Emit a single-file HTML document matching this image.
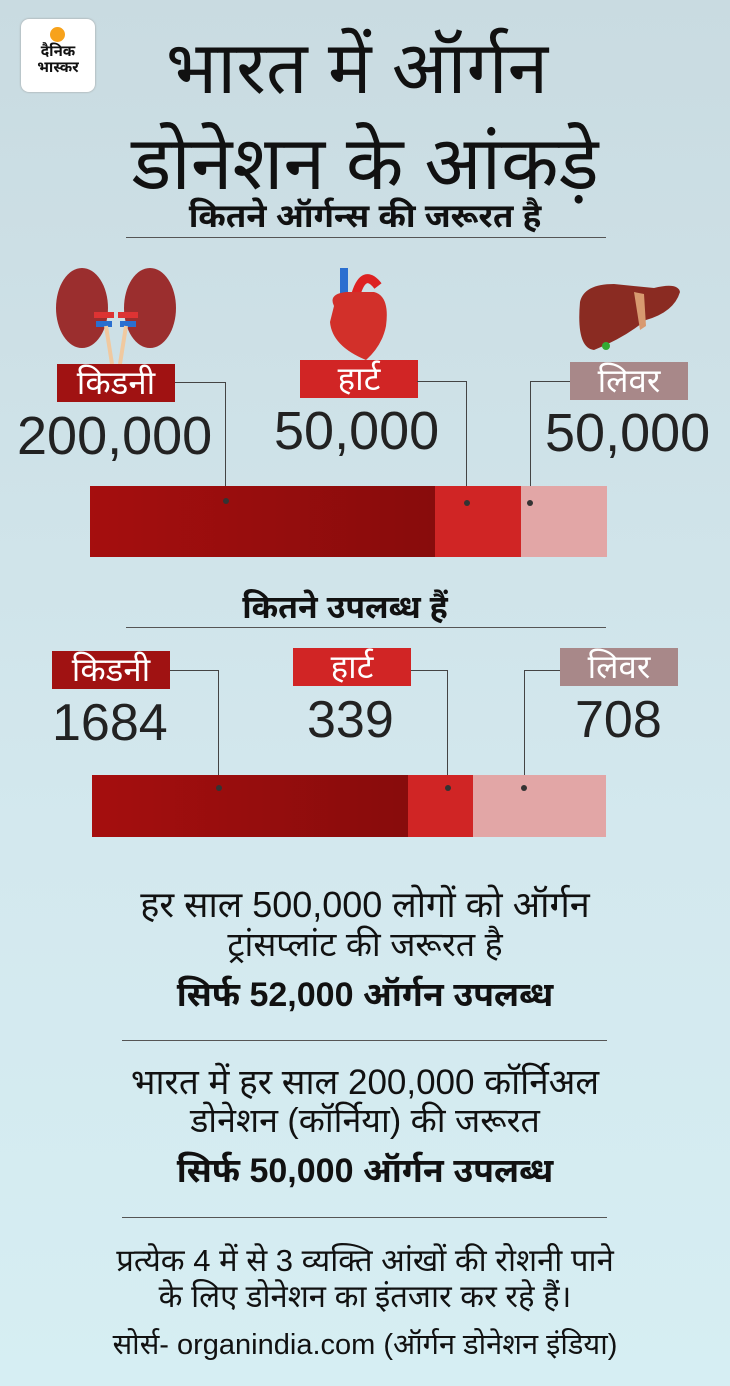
<!DOCTYPE html>
<html><head><meta charset="utf-8"><style>
*{margin:0;padding:0;box-sizing:border-box}
body{width:730px;height:1386px;overflow:hidden;background:linear-gradient(#c9dbe1,#d3e8ee 60%,#d6eef3);font-family:"Liberation Sans","Noto Sans Devanagari","Lohit Devanagari",sans-serif;color:#111;position:relative}
.a{position:absolute}
.c{position:absolute;left:0;width:730px;text-align:center;white-space:nowrap}
.lbl{position:absolute;color:#fff;font-size:33px;text-align:center;line-height:38px;height:38px;width:118px}
.num{position:absolute;font-size:54px;font-weight:300;white-space:nowrap;color:#222}
.rule{position:absolute;height:1px;background:#555}
.ln{position:absolute;border-color:#444;border-style:solid;border-width:0}
.dot{position:absolute;width:6px;height:6px;border-radius:3px;background:#333}
</style></head><body>
<div class="a" style="left:21px;top:19px;width:74px;height:73px;background:#fff;border-radius:8px;box-shadow:0 0 2px #999"></div>
<div class="a" style="left:50px;top:27px;width:15px;height:15px;border-radius:8px;background:#f7a21b"></div>
<div class="a" style="left:25px;top:44px;width:66px;font-size:15px;font-weight:bold;line-height:16px;text-align:center">दैनिक<br>भास्कर</div>

<div class="c" style="top:26px;font-size:73px;line-height:86px;left:-8px">भारत में ऑर्गन</div>
<div class="c" style="top:118px;font-size:75px;line-height:90px">डोनेशन के आंकड़े</div>
<div class="c" style="top:196px;font-size:33px;font-weight:bold;line-height:40px;left:0">कितने ऑर्गन्स की जरूरत है</div>
<div class="rule" style="left:126px;top:237px;width:480px"></div>

<svg class="a" style="left:52px;top:266px" width="130" height="100">
<ellipse cx="30" cy="42" rx="26" ry="40" fill="#9b2e2e"/><ellipse cx="98" cy="42" rx="26" ry="40" fill="#9b2e2e"/>
<rect x="42" y="46" width="20" height="6" fill="#d33"/><rect x="66" y="46" width="20" height="6" fill="#d33"/>
<rect x="44" y="55" width="16" height="6" fill="#2a6fd0"/><rect x="68" y="55" width="16" height="6" fill="#2a6fd0"/>
<path d="M54 60 L60 98 M74 60 L68 98" stroke="#f0c9a0" stroke-width="4"/></svg>
<svg class="a" style="left:326px;top:266px" width="66" height="96">
<rect x="14" y="2" width="8" height="30" fill="#2a6fd0"/><path d="M30 28 Q38 2 52 20" stroke="#d22" stroke-width="9" fill="none"/>
<path d="M8 40 Q2 28 20 26 L48 26 Q64 30 60 60 Q56 80 40 94 Q6 80 4 56 Z" fill="#d2302a"/></svg>
<svg class="a" style="left:574px;top:278px" width="110" height="76">
<path d="M6 24 Q10 6 40 6 L80 10 Q104 4 106 14 Q100 34 72 42 Q50 60 20 72 Q2 70 6 24 Z" fill="#8a2b22"/>
<path d="M60 14 L70 16 L72 48 L66 52 Z" fill="#d89a70"/><circle cx="32" cy="68" r="4" fill="#3a3"/></svg>

<div class="lbl" style="left:57px;top:364px;background:#a01212">किडनी</div>
<div class="lbl" style="left:300px;top:360px;background:#d12525">हार्ट</div>
<div class="lbl" style="left:570px;top:362px;background:#a88889">लिवर</div>
<div class="num" style="left:17px;top:405px">200,000</div>
<div class="num" style="left:274px;top:400px">50,000</div>
<div class="num" style="left:545px;top:402px">50,000</div>
<div class="ln" style="left:175px;top:382px;width:51px;height:119px;border-top-width:1px;border-right-width:1px"></div>
<div class="ln" style="left:417px;top:381px;width:50px;height:122px;border-top-width:1px;border-right-width:1px"></div>
<div class="ln" style="left:530px;top:381px;width:40px;height:122px;border-top-width:1px;border-left-width:1px"></div>
<div class="a" style="left:90px;top:486px;width:345px;height:71px;background:linear-gradient(90deg,#a50e0e,#880c0c)"></div>
<div class="a" style="left:435px;top:486px;width:86px;height:71px;background:#d02525"></div>
<div class="a" style="left:521px;top:486px;width:86px;height:71px;background:#e2a6a6"></div>
<div class="dot" style="left:223px;top:498px"></div><div class="dot" style="left:464px;top:500px"></div><div class="dot" style="left:527px;top:500px"></div>

<div class="c" style="top:588px;font-size:32px;font-weight:bold;line-height:38px;left:-20px">कितने उपलब्ध हैं</div>
<div class="rule" style="left:126px;top:627px;width:480px"></div>
<div class="lbl" style="left:52px;top:651px;background:#a01212">किडनी</div>
<div class="lbl" style="left:293px;top:648px;background:#d12525">हार्ट</div>
<div class="lbl" style="left:560px;top:648px;background:#a88889">लिवर</div>
<div class="num" style="left:52px;top:693px;font-size:52px">1684</div>
<div class="num" style="left:307px;top:690px;font-size:52px">339</div>
<div class="num" style="left:575px;top:690px;font-size:52px">708</div>
<div class="ln" style="left:170px;top:670px;width:49px;height:118px;border-top-width:1px;border-right-width:1px"></div>
<div class="ln" style="left:411px;top:670px;width:37px;height:118px;border-top-width:1px;border-right-width:1px"></div>
<div class="ln" style="left:524px;top:670px;width:36px;height:118px;border-top-width:1px;border-left-width:1px"></div>
<div class="a" style="left:92px;top:775px;width:316px;height:62px;background:linear-gradient(90deg,#a50e0e,#880c0c)"></div>
<div class="a" style="left:408px;top:775px;width:65px;height:62px;background:#d02525"></div>
<div class="a" style="left:473px;top:775px;width:133px;height:62px;background:#e2a6a6"></div>
<div class="dot" style="left:216px;top:785px"></div><div class="dot" style="left:445px;top:785px"></div><div class="dot" style="left:521px;top:785px"></div>

<div class="c" style="top:884px;font-size:36px;line-height:42px">हर साल 500,000 लोगों को ऑर्गन</div>
<div class="c" style="top:924px;font-size:34px;line-height:42px">ट्रांसप्लांट की जरूरत है</div>
<div class="c" style="top:973px;font-size:34px;font-weight:bold;line-height:44px">सिर्फ 52,000 ऑर्गन उपलब्ध</div>
<div class="rule" style="left:122px;top:1040px;width:485px"></div>
<div class="c" style="top:1062px;font-size:35px;line-height:42px">भारत में हर साल 200,000 कॉर्निअल</div>
<div class="c" style="top:1100px;font-size:34px;line-height:42px">डोनेशन (कॉर्निया) की जरूरत</div>
<div class="c" style="top:1149px;font-size:34px;font-weight:bold;line-height:44px">सिर्फ 50,000 ऑर्गन उपलब्ध</div>
<div class="rule" style="left:122px;top:1217px;width:485px"></div>
<div class="c" style="top:1242px;font-size:31px;line-height:38px">प्रत्येक 4 में से 3 व्यक्ति आंखों की रोशनी पाने</div>
<div class="c" style="top:1278px;font-size:31px;line-height:38px">के लिए डोनेशन का इंतजार कर रहे हैं।</div>
<div class="c" style="top:1327px;font-size:29px;line-height:36px">सोर्स- organindia.com (ऑर्गन डोनेशन इंडिया)</div>
</body></html>
